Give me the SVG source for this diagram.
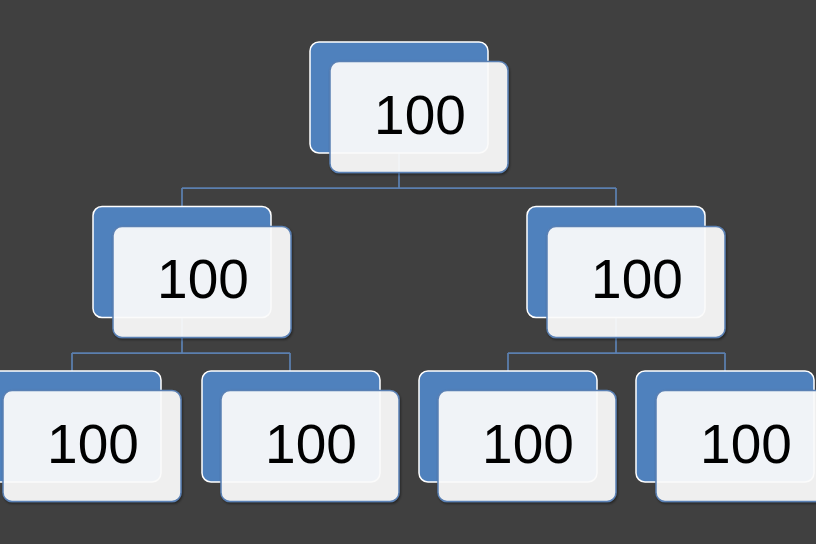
<svg xmlns="http://www.w3.org/2000/svg" width="816" height="544" viewBox="0 0 816 544">
  <defs>
    <style>
      .back { fill: #4F81BD; stroke: #FFFFFF; stroke-width: 1.5; }
      .front { fill: #FFFFFF; fill-opacity: 0.9; stroke: #5A80B4; stroke-width: 1.5; }
      .label { font-family: "Liberation Sans", Arial, sans-serif; font-size: 55px; fill: #000000; text-anchor: middle; }
      .conn { fill: none; stroke: #5B7FAF; stroke-width: 1.75; }
    </style>
    <filter id="sh" x="-10%" y="-10%" width="125%" height="125%">
      <feDropShadow dx="1" dy="1.5" stdDeviation="1.2" flood-color="#000000" flood-opacity="0.45"/>
    </filter>
  </defs>
  <rect x="0" y="0" width="816" height="544" fill="#404040"/>

  <g id="connectors">
    <path class="conn" d="M399,153 V188 M182,188 H616 M182,188 V206 M616,188 V206"/>
    <path class="conn" d="M182,318 V353 M72,353 H290 M72,353 V371 M290,353 V371"/>
    <path class="conn" d="M616,318 V353 M508,353 H725 M508,353 V371 M725,353 V371"/>
  </g>

  <g id="node-root">
    <rect class="back" x="310" y="42" width="178" height="111" rx="9"/>
    <rect class="front" x="330" y="61.5" width="178" height="111" rx="9" filter="url(#sh)"/>
    <text class="label" x="420" y="133.5">100</text>
  </g>

  <g id="node-l2-left">
    <rect class="back" x="93" y="206.5" width="178" height="111" rx="9"/>
    <rect class="front" x="113" y="226.5" width="178" height="111" rx="9" filter="url(#sh)"/>
    <text class="label" x="203" y="298">100</text>
  </g>

  <g id="node-l2-right">
    <rect class="back" x="527" y="206.5" width="178" height="111" rx="9"/>
    <rect class="front" x="547" y="226.5" width="178" height="111" rx="9" filter="url(#sh)"/>
    <text class="label" x="637" y="298">100</text>
  </g>

  <g id="node-l3-1">
    <rect class="back" x="-17" y="371" width="178" height="111" rx="9"/>
    <rect class="front" x="3" y="390.5" width="178" height="111" rx="9" filter="url(#sh)"/>
    <text class="label" x="93" y="462.5">100</text>
  </g>

  <g id="node-l3-2">
    <rect class="back" x="202" y="371" width="178" height="111" rx="9"/>
    <rect class="front" x="221" y="390.5" width="178" height="111" rx="9" filter="url(#sh)"/>
    <text class="label" x="311" y="462.5">100</text>
  </g>

  <g id="node-l3-3">
    <rect class="back" x="419" y="371" width="178" height="111" rx="9"/>
    <rect class="front" x="438" y="390.5" width="178" height="111" rx="9" filter="url(#sh)"/>
    <text class="label" x="528" y="462.5">100</text>
  </g>

  <g id="node-l3-4">
    <rect class="back" x="636" y="371" width="178" height="111" rx="9"/>
    <rect class="front" x="656" y="390.5" width="178" height="111" rx="9" filter="url(#sh)"/>
    <text class="label" x="746" y="462.5">100</text>
  </g>
</svg>
